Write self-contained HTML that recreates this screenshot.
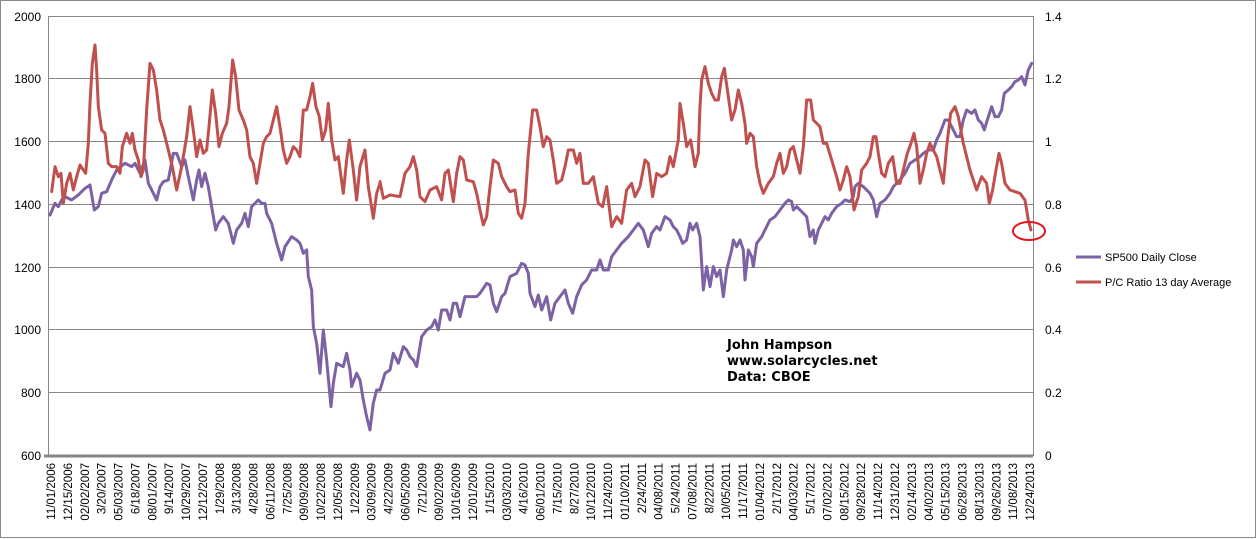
<!DOCTYPE html>
<html><head><meta charset="utf-8"><style>
html,body{margin:0;padding:0;background:#fff;}
svg{display:block;font-family:"Liberation Sans",Arial,sans-serif;}
</style></head><body>
<svg width="1257" height="539" viewBox="0 0 1257 539" xmlns="http://www.w3.org/2000/svg">
<rect x="0.5" y="0.5" width="1255" height="537" fill="#fff" stroke="#888" stroke-width="1"/>
<g stroke="#868686" stroke-width="1">
<line x1="48" y1="16.5" x2="1033" y2="16.5"/>
<line x1="48" y1="78.5" x2="1033" y2="78.5"/>
<line x1="48" y1="141.5" x2="1033" y2="141.5"/>
<line x1="48" y1="204.5" x2="1033" y2="204.5"/>
<line x1="48" y1="267.5" x2="1033" y2="267.5"/>
<line x1="48" y1="329.5" x2="1033" y2="329.5"/>
<line x1="48" y1="392.5" x2="1033" y2="392.5"/>
<line x1="48.5" y1="16" x2="48.5" y2="456"/>
<line x1="1033.5" y1="16" x2="1033.5" y2="456"/>
</g>
<line x1="44" y1="456" x2="1033" y2="456" stroke="#868686" stroke-width="3"/>
<g font-size="12" fill="#000" text-anchor="end">
<text x="41" y="21">2000</text><text x="41" y="83">1800</text><text x="41" y="146">1600</text>
<text x="41" y="209">1400</text><text x="41" y="272">1200</text><text x="41" y="334">1000</text>
<text x="41" y="397">800</text><text x="41" y="460">600</text>
</g>
<g font-size="12" fill="#000">
<text x="1045" y="21">1.4</text><text x="1045" y="83">1.2</text><text x="1045" y="146">1</text>
<text x="1045" y="209">0.8</text><text x="1045" y="272">0.6</text><text x="1045" y="334">0.4</text>
<text x="1045" y="397">0.2</text><text x="1045" y="460">0</text>
</g>
<g fill="none" stroke-linejoin="round" stroke-linecap="round">
<g transform="translate(45,10) scale(0.3333)">
<polyline stroke="#7c62a4" stroke-width="9" points="15,615 30,580 40,590 50,570 60,560 80,570 100,555 120,535 135,525 148,600 160,590 170,550 185,545 200,510 215,480 240,460 260,470 270,460 285,490 300,450 310,520 320,540 335,570 345,530 355,515 370,510 385,430 395,430 410,470 420,450 430,500 445,570 455,510 462,480 470,530 480,490 490,530 500,590 512,660 520,640 535,620 550,640 565,700 575,660 590,640 600,610 610,650 620,590 640,570 650,580 660,580 665,610 680,640 695,700 710,750 720,710 740,680 755,690 765,700 775,730 785,720 790,800 800,840 805,950 815,1000 825,1090 835,960 845,1050 858,1190 865,1120 875,1060 895,1070 905,1030 915,1080 920,1130 935,1090 945,1110 955,1170 965,1220 975,1260 985,1180 995,1140 1005,1140"/>
<polyline stroke="#c0504d" stroke-width="9" points="20,545 30,470 40,500 48,490 55,580 65,520 75,490 85,540 95,500 105,465 115,480 122,490 130,400 135,280 142,160 150,105 155,180 160,290 170,360 180,370 190,460 200,470 215,470 225,490 232,410 245,370 255,400 262,370 270,420 280,450 288,500 295,480 305,300 315,160 325,180 335,240 345,330 355,360 370,420 382,470 395,540 410,470 425,380 435,290 445,360 455,440 465,390 475,430 485,420 492,350 502,240 512,310 522,410 532,370 545,340 552,290 563,150 572,200 582,300 595,330 605,360 615,440 625,460 635,520 645,460 655,400 665,380 675,370 685,330 695,290 705,350 715,420 725,460 735,440 745,410 755,420 765,440 775,300 785,300 795,260 803,220 813,290 823,320 832,390 842,360 850,280 860,390 870,450 880,440 895,550 905,450 913,390 925,480 935,570 945,470 960,420 970,530 985,625 995,550 1005,520"/>
</g>
<g transform="translate(380,10) scale(0.3333)">
<polyline stroke="#7c62a4" stroke-width="9" points="0,1140 15,1090 30,1080 40,1030 55,1060 70,1010 80,1020 90,1040 100,1050 110,1070 125,980 140,960 155,950 165,930 175,960 185,900 200,900 210,930 220,880 230,880 240,920 255,860 270,860 290,860 300,850 320,820 330,825 340,880 350,905 365,860 375,850 390,800 410,790 425,760 435,765 445,790 450,850 465,890 475,855 485,900 500,860 512,930 525,880 540,860 555,840 565,880 578,910 590,860 605,825 620,810 635,780 650,780 660,750 670,780 685,780 695,740 710,720 725,700 745,680 760,660 775,640 790,660 805,710 815,670 830,650 840,660 855,620 870,630 880,650 890,660 900,680 908,700 920,690 930,640 938,660 950,640 960,680"/>
<polyline stroke="#c0504d" stroke-width="9" points="0,515 10,565 30,555 60,560 75,490 90,470 100,440 110,480 120,560 135,575 150,540 170,530 185,570 195,490 205,480 220,575 230,490 240,440 250,450 260,510 280,515 290,550 300,600 310,645 320,620 330,530 340,450 355,460 365,500 380,530 390,545 405,540 415,610 425,625 435,580 445,430 458,300 470,300 480,350 490,410 500,380 510,390 520,450 530,520 545,510 555,470 565,420 580,420 590,460 600,430 610,520 625,520 640,500 655,580 668,590 680,530 695,650 710,620 725,640 740,540 755,520 765,560 780,530 795,450 805,460 818,560 830,490 845,500 860,490 870,440 880,470 895,390 900,280 910,340 920,410 932,390 945,470 955,430 960,290"/>
</g>
<g transform="translate(700,10) scale(0.3333)">
<polyline stroke="#7c62a4" stroke-width="9" points="0,680 10,840 20,770 30,830 40,770 50,800 60,780 70,860 80,780 95,720 100,690 110,710 120,690 130,720 135,810 145,720 155,740 160,770 170,700 185,680 195,660 210,630 225,620 240,600 255,580 265,570 275,575 280,600 290,590 300,600 310,610 320,620 330,680 340,660 345,700 355,660 365,640 375,620 385,630 395,610 410,590 425,580 435,570 450,575 460,560 465,530 475,520 490,530 500,540 510,550 520,570 530,620 540,580 555,570 570,550 580,530 590,520 600,510 615,490 630,460 645,450 660,440 670,430 685,420 700,420 710,390 720,370 735,330 745,330 760,360 770,380 780,380 790,330 800,300 815,310 825,300 835,330 845,340 853,360 862,330 875,290 885,320 895,320 905,300 913,250 925,240 935,230 945,215 955,210 965,200 975,225 985,180 995,160"/>
<polyline stroke="#c0504d" stroke-width="9" points="0,290 5,210 15,170 25,220 35,250 45,270 55,270 65,200 73,175 85,260 95,330 105,300 115,240 125,280 135,340 140,400 150,370 160,380 170,470 180,520 190,550 205,520 220,500 230,460 240,430 250,490 260,470 270,420 280,410 290,450 300,490 310,410 320,270 332,270 340,330 350,340 360,350 370,400 380,400 395,450 410,500 420,540 430,510 440,470 450,500 462,600 475,560 485,480 500,460 510,440 520,380 528,380 535,430 545,490 555,500 565,460 578,440 590,520 600,520 610,480 622,430 633,400 642,370 650,410 660,520 670,480 680,430 690,400 700,420 710,440 720,480 730,520 740,410 752,310 765,290 775,320 790,400 800,440 810,480 820,510 830,540 845,500 860,520 868,580 878,540 888,480 897,430 905,460 915,520 930,540 945,545 960,550 975,570 985,630 993,660"/>
</g>
</g>
<ellipse cx="1029" cy="231" rx="16" ry="9" fill="none" stroke="#e8141c" stroke-width="2"/>
<g font-family="'DejaVu Sans',Verdana,sans-serif" font-weight="bold" font-size="13" fill="#000">
<text x="727" y="349">John Hampson</text>
<text x="727" y="365">www.solarcycles.net</text>
<text x="727" y="381">Data: CBOE</text>
</g>
<line x1="1076" y1="257" x2="1101" y2="257" stroke="#7c62a4" stroke-width="3"/>
<line x1="1076" y1="282" x2="1101" y2="282" stroke="#c0504d" stroke-width="3"/>
<g font-size="11" fill="#000">
<text x="1105" y="261">SP500 Daily Close</text>
<text x="1105" y="286">P/C Ratio 13 day Average</text>
</g>
<g font-size="11.5" fill="#000" text-anchor="end">
<text transform="translate(55.0,463) rotate(-90)">11/01/2006</text>
<text transform="translate(71.9,463) rotate(-90)">12/15/2006</text>
<text transform="translate(88.8,463) rotate(-90)">02/02/2007</text>
<text transform="translate(105.6,463) rotate(-90)">3/20/2007</text>
<text transform="translate(122.5,463) rotate(-90)">05/03/2007</text>
<text transform="translate(139.4,463) rotate(-90)">6/18/2007</text>
<text transform="translate(156.3,463) rotate(-90)">08/01/2007</text>
<text transform="translate(173.2,463) rotate(-90)">9/14/2007</text>
<text transform="translate(190.0,463) rotate(-90)">10/29/2007</text>
<text transform="translate(206.9,463) rotate(-90)">12/12/2007</text>
<text transform="translate(223.8,463) rotate(-90)">1/29/2008</text>
<text transform="translate(240.7,463) rotate(-90)">3/13/2008</text>
<text transform="translate(257.6,463) rotate(-90)">4/28/2008</text>
<text transform="translate(274.4,463) rotate(-90)">06/11/2008</text>
<text transform="translate(291.3,463) rotate(-90)">7/25/2008</text>
<text transform="translate(308.2,463) rotate(-90)">09/09/2008</text>
<text transform="translate(325.1,463) rotate(-90)">10/22/2008</text>
<text transform="translate(342.0,463) rotate(-90)">12/05/2008</text>
<text transform="translate(358.8,463) rotate(-90)">1/22/2009</text>
<text transform="translate(375.7,463) rotate(-90)">03/09/2009</text>
<text transform="translate(392.6,463) rotate(-90)">4/22/2009</text>
<text transform="translate(409.5,463) rotate(-90)">06/05/2009</text>
<text transform="translate(426.4,463) rotate(-90)">7/21/2009</text>
<text transform="translate(443.2,463) rotate(-90)">09/02/2009</text>
<text transform="translate(460.1,463) rotate(-90)">10/16/2009</text>
<text transform="translate(477.0,463) rotate(-90)">12/01/2009</text>
<text transform="translate(493.9,463) rotate(-90)">1/15/2010</text>
<text transform="translate(510.8,463) rotate(-90)">03/03/2010</text>
<text transform="translate(527.6,463) rotate(-90)">4/16/2010</text>
<text transform="translate(544.5,463) rotate(-90)">06/01/2010</text>
<text transform="translate(561.4,463) rotate(-90)">7/15/2010</text>
<text transform="translate(578.3,463) rotate(-90)">8/27/2010</text>
<text transform="translate(595.2,463) rotate(-90)">10/12/2010</text>
<text transform="translate(612.0,463) rotate(-90)">11/24/2010</text>
<text transform="translate(628.9,463) rotate(-90)">01/10/2011</text>
<text transform="translate(645.8,463) rotate(-90)">2/24/2011</text>
<text transform="translate(662.7,463) rotate(-90)">04/08/2011</text>
<text transform="translate(679.6,463) rotate(-90)">5/24/2011</text>
<text transform="translate(696.4,463) rotate(-90)">07/08/2011</text>
<text transform="translate(713.3,463) rotate(-90)">8/22/2011</text>
<text transform="translate(730.2,463) rotate(-90)">10/05/2011</text>
<text transform="translate(747.1,463) rotate(-90)">11/17/2011</text>
<text transform="translate(764.0,463) rotate(-90)">01/04/2012</text>
<text transform="translate(780.8,463) rotate(-90)">2/17/2012</text>
<text transform="translate(797.7,463) rotate(-90)">04/03/2012</text>
<text transform="translate(814.6,463) rotate(-90)">5/17/2012</text>
<text transform="translate(831.5,463) rotate(-90)">07/02/2012</text>
<text transform="translate(848.4,463) rotate(-90)">08/15/2012</text>
<text transform="translate(865.2,463) rotate(-90)">09/28/2012</text>
<text transform="translate(882.1,463) rotate(-90)">11/14/2012</text>
<text transform="translate(899.0,463) rotate(-90)">12/31/2012</text>
<text transform="translate(915.9,463) rotate(-90)">02/14/2013</text>
<text transform="translate(932.8,463) rotate(-90)">04/02/2013</text>
<text transform="translate(949.6,463) rotate(-90)">05/15/2013</text>
<text transform="translate(966.5,463) rotate(-90)">06/28/2013</text>
<text transform="translate(983.4,463) rotate(-90)">08/13/2013</text>
<text transform="translate(1000.3,463) rotate(-90)">09/26/2013</text>
<text transform="translate(1017.2,463) rotate(-90)">11/08/2013</text>
<text transform="translate(1034.0,463) rotate(-90)">12/24/2013</text>
</g>
</svg>
</body></html>
